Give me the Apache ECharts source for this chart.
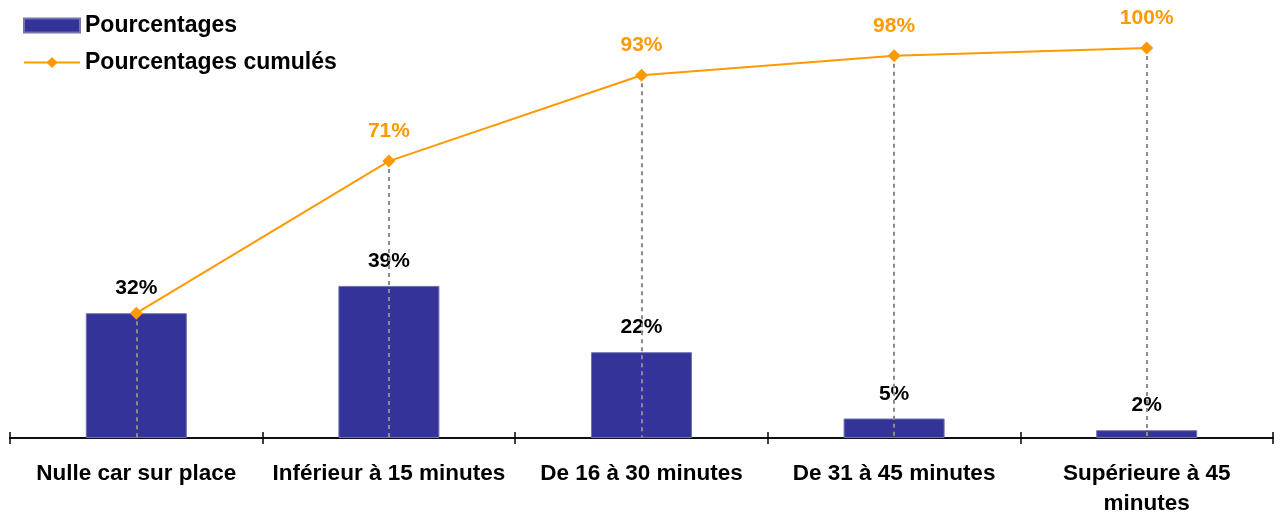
<!DOCTYPE html>
<html><head><meta charset="utf-8">
<script src="https://cdn.jsdelivr.net/npm/echarts@6/dist/echarts.min.js"></script>
<style>html,body{margin:0;padding:0;background:#fff}#c{width:1282px;height:512px}</style>
</head><body><div id="c"></div>
<script>
const categories = ['Nulle car sur place', 'Inférieur à 15 minutes', 'De 16 à 30 minutes', 'De 31 à 45 minutes', 'Supérieure à 45 minutes'];
const tickLabels = ['Nulle car sur place', 'Inférieur à 15 minutes', 'De 16 à 30 minutes', 'De 31 à 45 minutes', 'Supérieure à 45\nminutes'];
const pourcentages = [32, 39, 22, 5, 2];
const cumules = [32, 71, 93, 98, 100];
const seriesNames = ['Pourcentages', 'Pourcentages cumulés'];

const FONT = '"Liberation Sans", Arial, sans-serif';
const chart = echarts.init(document.getElementById('c'));
const xBase = {
  type: 'category', data: categories, position: 'bottom',
  axisLine: { lineStyle: { color: '#000', width: 1.5 } },
  splitLine: { show: false }
};
chart.setOption({
  animation: false,
  legend: {
    left: 18, top: 9, orient: 'vertical', itemGap: 14,
    itemWidth: 56, itemHeight: 14,
    textStyle: { fontFamily: FONT, fontWeight: 'bold', fontSize: 23, color: '#000' },
    data: [{ name: seriesNames[0], icon: 'rect' }, { name: seriesNames[1] }]
  },
  grid: { left: 10, right: 9, top: 48, bottom: 74, containLabel: false, outerBoundsMode: 'none' },
  xAxis: [
    Object.assign({}, xBase, {
      axisTick: { show: true, inside: false, length: 6, lineStyle: { color: '#000', width: 1.5 } },
      axisLabel: { interval: 0, margin: 21, color: '#000', fontFamily: FONT, fontWeight: 'bold', fontSize: 22.5,
        lineHeight: 30, hideOverlap: false, formatter: (v, i) => tickLabels[i] }
    }),
    Object.assign({}, xBase, {
      axisTick: { show: true, inside: true, length: 6, lineStyle: { color: '#000', width: 1.5 } },
      axisLabel: { show: false }
    })
  ],
  yAxis: { type: 'value', min: 0, max: 100, show: false, splitLine: { show: false } },
  series: [
    {
      name: seriesNames[0], type: 'bar', data: pourcentages, barWidth: '40%',
      itemStyle: { color: '#333399', borderColor: '#7373b0', borderWidth: 1 },
      label: { show: true, position: 'top', distance: 14, formatter: '{c}%',
        color: '#000', fontFamily: FONT, fontWeight: 'bold', fontSize: 21 }
    },
    {
      name: seriesNames[1], type: 'line', data: cumules.map((v, i) => ({
        value: v, label: { show: i !== 0 }
      })),
      symbol: 'diamond', symbolSize: 13,
      lineStyle: { color: '#FF9900', width: 2 },
      itemStyle: { color: '#FF9900' },
      label: { show: true, position: 'top', distance: 13, formatter: '{c}%',
        color: '#FF9900', fontFamily: FONT, fontWeight: 'bold', fontSize: 21 },
      z: 5,
      markLine: {
        silent: true, symbol: 'none', animation: false,
        label: { show: false },
        lineStyle: { color: '#8c8c8c', type: [4, 4], width: 2 },
        data: cumules.map((v, i) => [{ coord: [i, v] }, { coord: [i, 0] }])
      }
    }
  ]
});
</script></body></html>
